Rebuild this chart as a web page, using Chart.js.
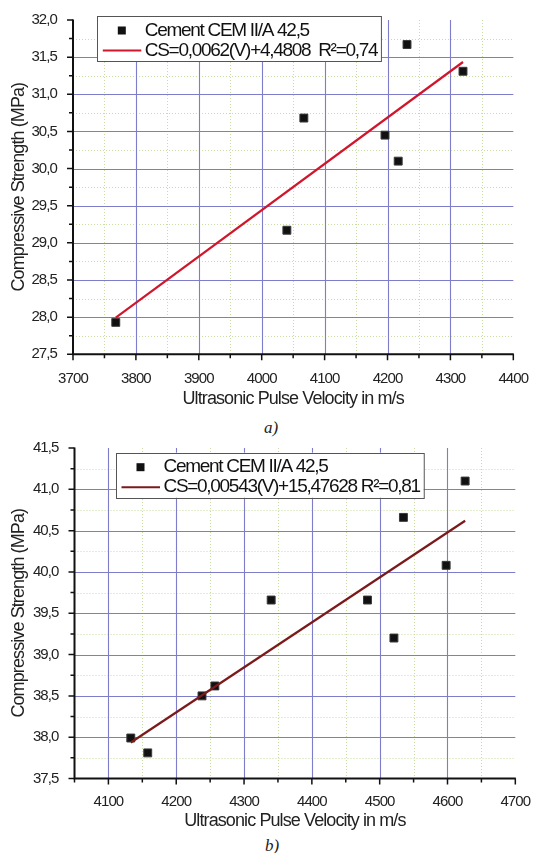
<!DOCTYPE html>
<html>
<head>
<meta charset="utf-8">
<title>Compressive strength vs. ultrasonic pulse velocity</title>
<script src="https://cdn.jsdelivr.net/npm/chart.js@4.4.1/dist/chart.umd.min.js"></script>
<style>
  html, body { margin: 0; padding: 0; background: #fff; }
  #wrap { position: relative; width: 538px; height: 853px; overflow: hidden; }
  canvas { position: absolute; left: 0; }
  #cA { top: 0; }
  #cB { top: 430px; }
  .cap { position: absolute; width: 40px; text-align: center; color: #222;
         font-family: 'Liberation Serif', 'DejaVu Serif', serif; font-style: italic; font-size: 17px; line-height: 20px; }
</style>
</head>
<body>
<div id="wrap">
  <canvas id="cA" width="538" height="410"></canvas>
  <div class="cap" style="left:251px; top:418px;">a)</div>
  <canvas id="cB" width="538" height="402"></canvas>
  <div class="cap" style="left:252px; top:836px;">b)</div>
</div>
<script>
// ---- data ----
const seriesName = 'Cement CEM II/A 42,5';

// panel a)
const velocityA = [3768, 4040, 4067, 4196, 4217, 4231, 4320];
const strengthA = [27.93, 29.17, 30.68, 30.45, 30.10, 31.67, 31.31];
const fitLabelA = 'CS=0,0062(V)+4,4808  R\u00B2=0,74';
const xRangeA = [3700, 4400];
const yRangeA = [27.5, 32.0];
const xTicksA = [3700, 3800, 3900, 4000, 4100, 4200, 4300, 4400];
const yTicksA = [27.5, 28.0, 28.5, 29.0, 29.5, 30.0, 30.5, 31.0, 31.5, 32.0];

// panel b)
const velocityB = [4133, 4158, 4238, 4257, 4340, 4482, 4521, 4535, 4598, 4626];
const strengthB = [37.99, 37.81, 38.50, 38.62, 39.66, 39.66, 39.20, 40.66, 40.08, 41.10];
const fitLabelB = 'CS=0,00543(V)+15,47628 R\u00B2=0,81';
const xRangeB = [4050, 4700];
const yRangeB = [37.5, 41.5];
const xTicksB = [4100, 4200, 4300, 4400, 4500, 4600, 4700];
const yTicksB = [37.5, 38.0, 38.5, 39.0, 39.5, 40.0, 40.5, 41.0, 41.5];

const xTitle = 'Ultrasonic Pulse Velocity in m/s';
const yTitle = 'Compressive Strength (MPa)';

// ---- helpers ----
const FONT = "'Liberation Sans', Arial, sans-serif";
Chart.defaults.font.family = FONT;
Chart.defaults.color = '#222';

function leastSquaresLine(xs, ys) {
  const n = xs.length;
  const mx = xs.reduce((s, v) => s + v, 0) / n;
  const my = ys.reduce((s, v) => s + v, 0) / n;
  let sxy = 0, sxx = 0;
  xs.forEach((v, i) => { sxy += (v - mx) * (ys[i] - my); sxx += (v - mx) * (v - mx); });
  const slope = sxy / sxx, icpt = my - slope * mx;
  const x0 = Math.min(...xs), x1 = Math.max(...xs);
  return [{ x: x0, y: icpt + slope * x0 }, { x: x1, y: icpt + slope * x1 }];
}

const isIn = (list, v) => list.some(m => Math.abs(m - v) < 1e-6);

function axis(range, majors, minorStep, fmt, pad, size, title) {
  return {
    type: 'linear',
    min: range[0],
    max: range[1],
    afterBuildTicks(scale) {
      const n = Math.round((range[1] - range[0]) / minorStep);
      const t = [];
      for (let i = 0; i <= n; i++) t.push({ value: +(range[0] + i * minorStep).toFixed(4) });
      scale.ticks = t;
    },
    afterFit(scale) {
      if (scale.isHorizontal()) scale.height = size; else scale.width = size;
    },
    ticks: {
      autoSkip: false, maxRotation: 0, padding: pad, color: '#222',
      font: { size: 15 },
      callback: v => (isIn(majors, v) ? fmt(v) : '')
    },
    grid: { display: false },
    border: { display: false },
    title: { display: true, text: title, padding: 0, color: '#222', font: { size: 18 } }
  };
}

// tight, narrow-looking lettering for the axis text
const tightTextPlugin = {
  id: 'tightText',
  beforeDraw(chart) { chart.ctx.letterSpacing = '-0.9px'; }
};

// grid, axis lines and tick marks
const framePlugin = {
  id: 'frame',
  beforeDatasetsDraw(chart, args, o) {
    const { ctx, chartArea: a, scales: { x, y } } = chart;
    ctx.save();
    // minor dotted grid first, major solid grid on top
    const drawGrid = (major) => {
      ctx.beginPath();
      ctx.lineWidth = major ? 1.1 : 1;
      ctx.strokeStyle = major ? '#7d7dc9' : '#c9dca2';
      ctx.setLineDash(major ? [] : [1, 2]);
      x.ticks.forEach(t => {
        if (t.value <= x.min || t.value >= x.max) return;
        if (isIn(o.xMajor, t.value) !== major) return;
        const px = Math.round(x.getPixelForValue(t.value)) + 0.5;
        ctx.moveTo(px, a.top); ctx.lineTo(px, a.bottom);
      });
      y.ticks.forEach(t => {
        if (t.value <= y.min || t.value >= y.max) return;
        if (isIn(o.yMajor, t.value) !== major) return;
        const py = Math.round(y.getPixelForValue(t.value)) + 0.5;
        ctx.moveTo(a.left, py); ctx.lineTo(a.right, py);
      });
      ctx.stroke();
    };
    drawGrid(false);
    drawGrid(true);
    ctx.setLineDash([]);

    // tick marks
    ctx.strokeStyle = '#111';
    ctx.lineWidth = 1.5;
    ctx.beginPath();
    x.ticks.forEach(t => {
      const px = x.getPixelForValue(t.value);
      const len = isIn(o.xMajor, t.value) ? 6 : 4;
      ctx.moveTo(px, a.bottom); ctx.lineTo(px, a.bottom + len);
    });
    y.ticks.forEach(t => {
      const py = y.getPixelForValue(t.value);
      const len = isIn(o.yMajor, t.value) ? 6 : 4;
      ctx.moveTo(a.left, py); ctx.lineTo(a.left - len, py);
    });
    ctx.stroke();

    // axis lines (left and bottom)
    ctx.lineWidth = 2;
    ctx.beginPath();
    ctx.moveTo(a.left, a.top - 0.5);
    ctx.lineTo(a.left, a.bottom);
    ctx.lineTo(a.right + 0.5, a.bottom);
    ctx.stroke();
    ctx.restore();
  }
};

// framed legend inside the plot
const boxLegendPlugin = {
  id: 'boxLegend',
  afterDatasetsDraw(chart, args, o) {
    const ctx = chart.ctx;
    const pts = chart.data.datasets[0];
    const fit = chart.data.datasets[1];
    ctx.save();
    ctx.font = '19px ' + FONT;
    ctx.letterSpacing = '-1.3px';
    const textX = o.x + 47.5;
    const w = Math.max(ctx.measureText(pts.label).width, ctx.measureText(fit.label).width);
    const bw = 47.5 + w + 4;
    const bh = 45;
    ctx.fillStyle = '#fff';
    ctx.fillRect(o.x, o.y, bw, bh);
    ctx.strokeStyle = '#555';
    ctx.lineWidth = 1;
    ctx.strokeRect(Math.round(o.x) + 0.5, Math.round(o.y) + 0.5, bw, bh);

    // row 1: square marker, row 2: fit line sample
    const r1 = o.y + 14.5, r2 = o.y + 34.5;
    ctx.fillStyle = pts.backgroundColor;
    ctx.fillRect(o.x + 24.5 - 4, r1 - 4, 8, 8);
    ctx.strokeStyle = fit.borderColor;
    ctx.lineWidth = 2;
    ctx.beginPath();
    ctx.moveTo(o.x + 5.5, r2);
    ctx.lineTo(o.x + 44, r2);
    ctx.stroke();

    ctx.fillStyle = '#111';
    ctx.textBaseline = 'middle';
    ctx.textAlign = 'left';
    ctx.fillText(pts.label, textX, r1);
    ctx.fillText(fit.label, textX, r2);
    ctx.restore();
  }
};

function build(canvasId, vel, str, fitLabel, lineColor, xr, yr, xt, yt, lay, legendPos) {
  const points = vel.map((v, i) => ({ x: v, y: str[i] }));
  return new Chart(document.getElementById(canvasId), {
    type: 'scatter',
    data: {
      datasets: [
        {
          label: seriesName,
          data: points,
          order: 1,
          pointStyle: 'rect',
          pointRadius: 5.6,
          pointHoverRadius: 5.6,
          backgroundColor: '#111',
          borderColor: '#3a3a3a',
          borderWidth: 1
        },
        {
          label: fitLabel,
          data: leastSquaresLine(vel, str),
          order: 0,
          showLine: true,
          pointRadius: 0,
          borderColor: lineColor,
          backgroundColor: lineColor,
          borderWidth: 2.2,
          tension: 0
        }
      ]
    },
    options: {
      responsive: false,
      animation: false,
      devicePixelRatio: 1,
      layout: { padding: { left: 8.6, top: lay.top, right: 17.3, bottom: 0 } },
      scales: {
        x: axis(xr, xt, 50, v => String(v), lay.xPad, lay.xH, xTitle),
        y: axis(yr, yt, 0.25, v => v.toFixed(1).replace('.', ','), 8, lay.yW, yTitle)
      },
      plugins: {
        legend: { display: false },
        tooltip: { enabled: false },
        frame: { xMajor: xt, yMajor: yt },
        boxLegend: legendPos
      }
    },
    plugins: [tightTextPlugin, framePlugin, boxLegendPlugin]
  });
}

build('cA', velocityA, strengthA, fitLabelA, '#d0162c', xRangeA, yRangeA, xTicksA, yTicksA,
      { top: 20, xPad: 8, xH: 55.7, yW: 64.4 }, { x: 97.3, y: 16 });
build('cB', velocityB, strengthB, fitLabelB, '#7a1a1a', xRangeB, yRangeB, xTicksB, yTicksB,
      { top: 18, xPad: 6, xH: 53.5, yW: 65.9 }, { x: 116, y: 22.7 });
</script>
</body>
</html>
